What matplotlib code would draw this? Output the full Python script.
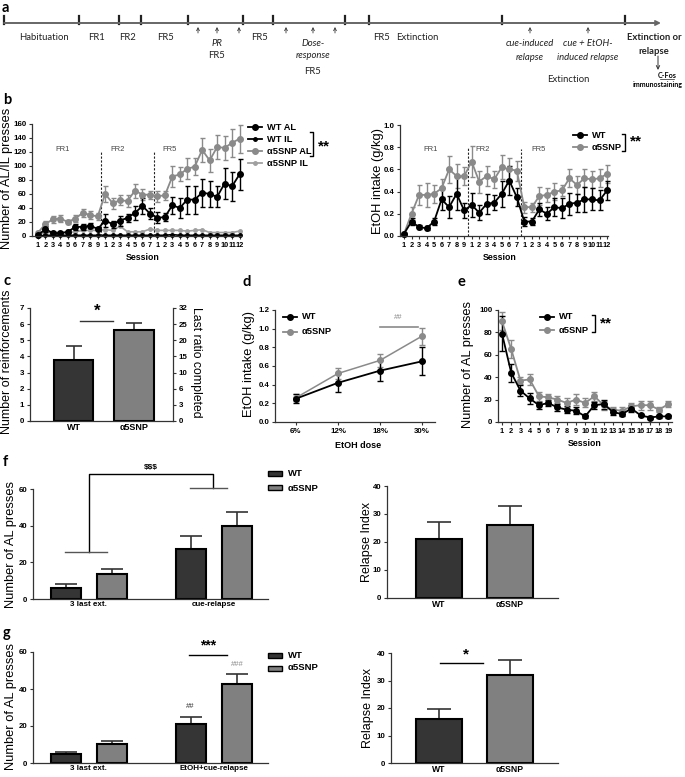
import matplotlib
matplotlib.use("Agg")
import matplotlib.pyplot as plt
from matplotlib.lines import Line2D
from matplotlib.patches import Rectangle

plt.rcParams['font.family'] = ['Liberation Sans', 'DejaVu Sans']

# ---------------- data ----------------
# panel b (left): AL / IL presses across FR1 (9), FR2 (7), FR5 (12) sessions
b_sessions = ['1', '2', '3', '4', '5', '6', '7', '8', '9',
              '1', '2', '3', '4', '5', '6', '7',
              '1', '2', '3', '4', '5', '6', '7', '8', '9', '10', '11', '12']
wt_al = [1, 10, 4, 4, 6, 13, 13, 15, 10,
         22, 17, 22, 26, 33, 43, 32,
         26, 27, 44, 40, 52, 52, 62, 60, 56, 75, 71, 88]
wt_al_err = [1, 4, 2, 2, 2, 4, 4, 4, 2,
             9, 5, 7, 6, 10, 12, 8,
             8, 6, 12, 14, 20, 20, 20, 18, 15, 22, 21, 22]
snp_al = [5, 17, 24, 25, 20, 25, 33, 30, 28,
          60, 47, 51, 50, 65, 59, 59,
          57, 58, 85, 88, 96, 99, 123, 108, 127, 126, 133, 139]
snp_al_err = [2, 4, 5, 5, 3, 5, 6, 6, 5,
              12, 8, 7, 8, 10, 8, 6,
              8, 7, 15, 10, 15, 12, 17, 17, 17, 17, 20, 20]
wt_il = [0, 1, 1, 1, 1, 1, 1, 1, 1,
         1, 1, 1, 1, 1, 1, 1,
         1, 1, 2, 1, 1, 1, 1, 1, 1, 1, 1, 1]
snp_il = [3, 5, 5, 5, 5, 6, 8, 8, 8,
          9, 8, 14, 6, 6, 6, 10,
          8, 8, 8, 8, 7, 8, 9, 5, 5, 5, 5, 7]

# panel b (right): EtOH intake
wt_etoh = [0.02, 0.13, 0.08, 0.07, 0.13, 0.33, 0.26, 0.38, 0.23,
           0.28, 0.21, 0.29, 0.30, 0.38, 0.50, 0.35,
           0.13, 0.13, 0.24, 0.20, 0.26, 0.25, 0.29, 0.30, 0.33, 0.33, 0.32, 0.41]
wt_etoh_err = [0.01, 0.03, 0.02, 0.02, 0.03, 0.10, 0.10, 0.15, 0.07,
               0.11, 0.07, 0.09, 0.07, 0.12, 0.13, 0.08,
               0.04, 0.03, 0.06, 0.06, 0.08, 0.09, 0.10, 0.08, 0.11, 0.10, 0.09, 0.09]
snp_etoh = [0.02, 0.20, 0.37, 0.37, 0.38, 0.43, 0.60, 0.54, 0.54,
            0.67, 0.49, 0.54, 0.51, 0.62, 0.60, 0.59,
            0.26, 0.26, 0.36, 0.37, 0.40, 0.41, 0.52, 0.46, 0.52, 0.51, 0.52, 0.56]
snp_etoh_err = [0.01, 0.06, 0.09, 0.11, 0.08, 0.08, 0.12, 0.11, 0.08,
                0.14, 0.10, 0.09, 0.08, 0.11, 0.10, 0.09,
                0.05, 0.04, 0.08, 0.06, 0.08, 0.05, 0.08, 0.08, 0.08, 0.08, 0.08, 0.08]

# panel c: progressive ratio
c_groups = ['WT', 'α5SNP']
c_vals = [3.8, 5.62]
c_err = [0.82, 0.48]
c_left_ticks = [0, 1, 2, 3, 4, 5, 6, 7]
c_right_labels = ['0', '3', '6', '10', '15', '20', '25', '32']

# panel d: dose response
d_doses = ['6%', '12%', '18%', '30%']
d_wt = [0.25, 0.42, 0.55, 0.65]
d_wt_err = [0.05, 0.10, 0.11, 0.15]
d_snp = [0.26, 0.52, 0.66, 0.92]
d_snp_err = [0.04, 0.06, 0.07, 0.09]

# panel e: extinction
e_sessions = [1, 2, 3, 4, 5, 6, 7, 8, 9, 10, 11, 12, 13, 14, 15, 16, 17, 18, 19]
e_wt = [79, 44, 28, 21, 15, 17, 13, 11, 10, 5, 15, 16, 9, 7, 12, 6, 4, 5, 5]
e_wt_err = [16, 8, 5, 5, 3, 3, 3, 3, 3, 1, 3, 4, 3, 2, 3, 1, 1, 1, 1]
e_snp = [90, 65, 37, 38, 23, 22, 20, 17, 20, 17, 23, 15, 11, 10, 14, 15, 15, 11, 16]
e_snp_err = [8, 8, 3, 5, 4, 3, 3, 4, 5, 4, 4, 4, 2, 3, 3, 4, 4, 2, 3]

# panel f: cue-induced relapse
f_cats = ['3 last ext.', 'cue-relapse']
f_wt = [6.0, 27.5]
f_wt_err = [2.0, 7.0]
f_snp = [13.5, 40.0]
f_snp_err = [3.0, 7.5]
f_ri = [21.0, 26.0]
f_ri_err = [6.2, 7.0]

# panel g: EtOH + cue-induced relapse
g_cats = ['3 last ext.', 'EtOH+cue-relapse']
g_wt = [4.8, 21.0]
g_wt_err = [1.2, 4.0]
g_snp = [10.2, 42.5]
g_snp_err = [1.8, 5.5]
g_ri = [16.0, 32.0]
g_ri_err = [3.5, 5.5]

# ---------------- styling ----------------
W, H = 685, 777
fig = plt.figure(figsize=(W / 100, H / 100), dpi=100)
fig.patch.set_facecolor('white')

BLACK = '#000000'
GRAY = '#8a8a8a'
BAR_WT = '#353535'
BAR_SNP = '#808080'
SPINE = '#333333'
TICK_FS = 5.7


def axpx(x0, y0, x1, y1):
    return fig.add_axes([x0 / W, 1 - y1 / H, (x1 - x0) / W, (y1 - y0) / H])


def fx(x):
    return x / W


def fy(y):
    return 1 - y / H


def ftext(x, y, s, **kw):
    kw.setdefault('ha', 'center')
    kw.setdefault('va', 'center')
    fig.text(fx(x), fy(y), s, **kw)


def fline(xs, ys, **kw):
    fig.add_artist(Line2D([fx(v) for v in xs], [fy(v) for v in ys],
                          transform=fig.transFigure, **kw))


def style(ax, xtick_len=2.5):
    for s in ('top', 'right'):
        ax.spines[s].set_visible(False)
    for s in ('left', 'bottom'):
        ax.spines[s].set_linewidth(0.9)
        ax.spines[s].set_color(SPINE)
    ax.tick_params(axis='both', direction='out', length=2.5, width=0.8,
                   color=SPINE, labelsize=TICK_FS, pad=1.5)
    ax.tick_params(axis='x', length=xtick_len)
    ax.patch.set_alpha(0)


def bold_ticks(ax, fs=None):
    for t in ax.get_xticklabels() + ax.get_yticklabels():
        t.set_fontweight('bold')
        if fs:
            t.set_fontsize(fs)


def noclip(ax):
    for a in ax.lines + ax.collections:
        a.set_clip_on(False)


def leg_line(x, y, color, label, ms=4, marker='o'):
    fline([x - 7, x + 7], [y, y], color=color, lw=1.3)
    fline([x], [y], color=color, marker=marker, ms=ms, lw=0)
    ftext(x + 12, y, label, ha='left', fontsize=6.7, fontweight='bold')


def bracket(x, y0, y1, star_x, star_y, s='**'):
    fline([x - 3, x, x, x - 3], [y0, y0, y1, y1], color=BLACK, lw=1.0)
    ftext(star_x, star_y, s, ha='left', fontsize=11, fontweight='bold')


def leg_box(x, y, color, label):
    fig.add_artist(Rectangle((fx(x - 7), fy(y + 2.5)), 14 / W, 5 / H,
                             transform=fig.transFigure, facecolor=color,
                             edgecolor=BLACK, lw=1.0))
    ftext(x + 13, y, label, ha='left', fontsize=6.8, fontweight='bold')


# ---------------- panel a: timeline ----------------
axa = fig.add_axes([0, 1 - 92 / H, 1, 92 / H])
axa.set_xlim(0, W)
axa.set_ylim(92, 0)
axa.axis('off')
tl_y = 23
tl_ticks = [4, 79, 119, 141, 188, 243, 273, 345, 369, 502, 625]
tl_arrows = [198, 217, 239, 286, 313, 335, 530, 588]
axa.annotate('', xy=(661, tl_y), xytext=(4, tl_y),
             arrowprops=dict(arrowstyle='->', color='#666666', lw=1.4,
                             mutation_scale=7, shrinkA=0, shrinkB=0))
for t in tl_ticks:
    axa.plot([t, t], [16, tl_y + 1], color='#222222', lw=1.6)
for t in tl_arrows:
    axa.annotate('', xy=(t, 27), xytext=(t, 33),
                 arrowprops=dict(arrowstyle='->', color='#333333', lw=0.6,
                                 mutation_scale=5, shrinkA=0, shrinkB=0))
axa.annotate('', xy=(658, 70), xytext=(658, 56),
             arrowprops=dict(arrowstyle='->', color='#333333', lw=0.7,
                             mutation_scale=6, shrinkA=0, shrinkB=0))
AF = ['Lato', 'DejaVu Sans']
a_texts = [
    (44, 37, 'Habituation', 'normal', 'normal'),
    (97, 37, 'FR1', 'normal', 'normal'),
    (128, 37, 'FR2', 'normal', 'normal'),
    (166, 37, 'FR5', 'normal', 'normal'),
    (217, 43, 'PR', 'italic', 'normal'),
    (217, 56, 'FR5', 'normal', 'normal'),
    (260, 37, 'FR5', 'normal', 'normal'),
    (313, 43, 'Dose-', 'italic', 'normal'),
    (313, 56, 'response', 'italic', 'normal'),
    (313, 72, 'FR5', 'normal', 'normal'),
    (382, 37, 'FR5', 'normal', 'normal'),
    (417, 37, 'Extinction', 'normal', 'normal'),
    (530, 43, 'cue-induced', 'italic', 'normal'),
    (530, 57, 'relapse', 'italic', 'normal'),
    (588, 43, 'cue + EtOH-', 'italic', 'normal'),
    (588, 57, 'induced relapse', 'italic', 'normal'),
    (568, 80, 'Extinction', 'normal', 'normal'),
    (654, 38, 'Extinction or', 'normal', 'bold'),
    (654, 51, 'relapse', 'normal', 'bold'),
]
for x, y, s, st, wt in a_texts:
    axa.text(x, y, s, ha='center', va='center', fontsize=6.8, family=AF,
             style=st, fontweight=wt, color='#222222')
axa.text(667, 75, 'C-Fos', ha='center', va='center', fontsize=5.2, family=AF,
         fontweight='bold')
axa.plot([660, 674], [79, 79], color='#222222', lw=0.5)
axa.text(683, 85, 'immunostaining', ha='right', va='center', fontsize=5.0,
         family=AF, fontweight='bold')

# panel letters
for x, y, s in [(2, 8, 'a'), (3, 100, 'b'), (3, 281, 'c'), (243, 282, 'd'),
                (458, 282, 'e'), (3, 462, 'f'), (3, 633, 'g')]:
    ftext(x, y, s, ha='left', fontsize=10.5, fontweight='bold', family=AF)

# ---------------- panel b left ----------------
ax = axpx(32, 124, 241, 236)
style(ax)
xb = list(range(len(b_sessions)))
ax.plot(xb, snp_il, color='#a0a0a0', marker='o', ms=2.5, lw=1.2)
ax.plot(xb, wt_il, color=BLACK, marker='o', ms=2.5, lw=1.2)
ax.errorbar(xb, snp_al, yerr=snp_al_err, color=GRAY, marker='o', ms=4, lw=1.3,
            elinewidth=1.0, capsize=1.8, capthick=1.0)
ax.errorbar(xb, wt_al, yerr=wt_al_err, color=BLACK, marker='o', ms=4, lw=1.3,
            elinewidth=1.0, capsize=1.8, capthick=1.0)
ax.plot([8.5, 8.5], [0, 120], color='#222222', lw=0.8, ls=(0, (2, 1.5)))
ax.plot([15.5, 15.5], [0, 120], color='#222222', lw=0.8, ls=(0, (2, 1.5)))
ax.text(3.3, 124, 'FR1', ha='center', va='center', fontsize=5.5, color='#444444')
ax.text(10.7, 124, 'FR2', ha='center', va='center', fontsize=5.5, color='#444444')
ax.text(17.6, 124, 'FR5', ha='center', va='center', fontsize=5.5, color='#444444')
ax.set_xlim(-0.8, 27.2)
ax.set_ylim(0, 160)
ax.set_yticks([0, 20, 40, 60, 80, 100, 120, 140, 160])
ax.set_xticks(xb)
ax.set_xticklabels(b_sessions)
bold_ticks(ax)
for t in ax.get_xticklabels():
    t.set_fontsize(5.3)
noclip(ax)
ftext(7, 178, 'Number of AL/IL presses', rotation=90, fontsize=9.3)
ftext(143, 258, 'Session', fontsize=6.3, fontweight='bold')
leg_line(255, 127, BLACK, 'WT AL')
leg_line(255, 139, BLACK, 'WT IL', ms=2.5)
leg_line(255, 151, GRAY, 'α5SNP AL')
leg_line(255, 163, '#a0a0a0', 'α5SNP IL', ms=2.5)
bracket(313, 132, 156, 318, 146)

# ---------------- panel b right ----------------
ax = axpx(400, 125, 608, 236)
style(ax)
ax.errorbar(xb, snp_etoh, yerr=snp_etoh_err, color=GRAY, marker='o', ms=4,
            lw=1.3, elinewidth=1.0, capsize=1.8, capthick=1.0)
ax.errorbar(xb, wt_etoh, yerr=wt_etoh_err, color=BLACK, marker='o', ms=4,
            lw=1.3, elinewidth=1.0, capsize=1.8, capthick=1.0)
ax.plot([8.5, 8.5], [0, 0.8], color='#222222', lw=0.8, ls=(0, (2, 1.5)))
ax.plot([15.5, 15.5], [0, 0.78], color='#222222', lw=0.8, ls=(0, (2, 1.5)))
ax.text(3.5, 0.78, 'FR1', ha='center', va='center', fontsize=5.5, color='#444444')
ax.text(10.5, 0.78, 'FR2', ha='center', va='center', fontsize=5.5, color='#444444')
ax.text(17.9, 0.78, 'FR5', ha='center', va='center', fontsize=5.5, color='#444444')
ax.set_xlim(-0.53, 27.13)
ax.set_ylim(0, 1.0)
ax.set_yticks([0.0, 0.2, 0.4, 0.6, 0.8, 1.0])
ax.set_yticklabels(['0.0', '0.2', '0.4', '0.6', '0.8', '1.0'])
ax.set_xticks(xb)
ax.set_xticklabels(b_sessions)
bold_ticks(ax)
for t in ax.get_xticklabels():
    t.set_fontsize(5.3)
noclip(ax)
ftext(378, 181, 'EtOH intake (g/kg)', rotation=90, fontsize=9.3)
ftext(500, 258, 'Session', fontsize=6.3, fontweight='bold')
leg_line(580, 135, BLACK, 'WT')
leg_line(580, 147, GRAY, 'α5SNP')
bracket(625, 134, 151, 630, 141)

# ---------------- panel c ----------------
ax = axpx(30, 308, 173, 421)
style(ax, xtick_len=0)
xc = [0, 1]
ax.bar(xc, c_vals, width=0.645, color=[BAR_WT, BAR_SNP], edgecolor=BLACK,
       linewidth=1.5, zorder=2)
ax.errorbar(xc, c_vals, yerr=[[0, 0], c_err], fmt='none', ecolor='#333333',
            elinewidth=1.2, capsize=6, capthick=1.2, zorder=1)
ax.set_xlim(-0.72, 1.645)
ax.set_ylim(0, 7)
ax.set_yticks(c_left_ticks)
ax.set_xticks(xc)
ax.set_xticklabels(c_groups)
bold_ticks(ax)
for t in ax.get_xticklabels():
    t.set_fontsize(6.5)
ax.plot([0.107, 0.65], [6.19, 6.19], color='#333333', lw=1.0, clip_on=False)
ax.text(0.39, 6.35, '*', ha='center', va='bottom', fontsize=12, fontweight='bold')
ax2 = ax.twinx()
ax2.set_ylim(0, 7)
for s in ('top', 'left', 'bottom'):
    ax2.spines[s].set_visible(False)
ax2.spines['right'].set_color(SPINE)
ax2.spines['right'].set_linewidth(0.9)
ax2.tick_params(axis='y', direction='out', length=2.5, width=0.8, color=SPINE,
                labelsize=TICK_FS, pad=1.5)
ax2.set_yticks(c_left_ticks)
ax2.set_yticklabels(c_right_labels)
bold_ticks(ax2)
ftext(7, 362, 'Number of reinforcements', rotation=90, fontsize=9.0)
ftext(196, 362, 'Last ratio completed', rotation=270, fontsize=8.8)

# ---------------- panel d ----------------
ax = axpx(275, 310, 435, 422)
style(ax)
xd = [0, 1, 2, 3]
ax.errorbar(xd, d_snp, yerr=d_snp_err, color=GRAY, marker='o', ms=4, lw=1.1,
            elinewidth=1.0, capsize=2.2, capthick=1.0)
ax.errorbar(xd, d_wt, yerr=d_wt_err, color=BLACK, marker='o', ms=4, lw=1.3,
            elinewidth=1.0, capsize=2.2, capthick=1.0)
ax.set_xlim(-0.5, 3.31)
ax.set_ylim(0, 1.2)
ax.set_yticks([0.0, 0.2, 0.4, 0.6, 0.8, 1.0, 1.2])
ax.set_yticklabels(['0.0', '0.2', '0.4', '0.6', '0.8', '1.0', '1.2'])
ax.set_xticks(xd)
ax.set_xticklabels(d_doses)
bold_ticks(ax)
noclip(ax)
ax.plot([2.0, 2.9], [1.02, 1.02], color=GRAY, lw=1.2, clip_on=False)
ax.text(2.43, 1.12, '##', ha='center', va='center', fontsize=5.5, color=GRAY)
ftext(249, 364, 'EtOH intake (g/kg)', rotation=90, fontsize=9.3)
ftext(358, 445, 'EtOH dose', fontsize=6.5, fontweight='bold')
leg_line(290, 317, BLACK, 'WT')
leg_line(290, 332, GRAY, 'α5SNP')

# ---------------- panel e ----------------
ax = axpx(498, 310, 672, 422)
style(ax)
ax.errorbar(e_sessions, e_snp, yerr=e_snp_err, color=GRAY, marker='o', ms=4,
            lw=1.3, elinewidth=1.0, capsize=2.0, capthick=1.0)
ax.errorbar(e_sessions, e_wt, yerr=e_wt_err, color=BLACK, marker='o', ms=4,
            lw=1.3, elinewidth=1.0, capsize=2.0, capthick=1.0)
ax.set_xlim(0.57, 19.4)
ax.set_ylim(0, 100)
ax.set_yticks([0, 20, 40, 60, 80, 100])
ax.set_xticks(e_sessions)
bold_ticks(ax)
for t in ax.get_xticklabels():
    t.set_fontsize(5.3)
noclip(ax)
ftext(468, 364, 'Number of AL presses', rotation=90, fontsize=9.3)
ftext(585, 443, 'Session', fontsize=6.3, fontweight='bold')
leg_line(547, 317, BLACK, 'WT')
leg_line(547, 330, GRAY, 'α5SNP')
bracket(595, 315, 332, 600, 323)


# ---------------- bar panels f / g ----------------
def group_bars(ax, cats, wt, wt_err, snp, snp_err):
    gx = [0, 1]
    off = 0.186
    wx = [g - off for g in gx]
    sx = [g + off for g in gx]
    ax.bar(wx, wt, width=0.24, color=BAR_WT, edgecolor=BLACK, linewidth=1.5, zorder=2)
    ax.bar(sx, snp, width=0.24, color=BAR_SNP, edgecolor=BLACK, linewidth=1.5, zorder=2)
    ax.errorbar(wx, wt, yerr=[[0, 0], wt_err], fmt='none', ecolor='#333333',
                elinewidth=1.2, capsize=8, capthick=1.2, zorder=1)
    ax.errorbar(sx, snp, yerr=[[0, 0], snp_err], fmt='none', ecolor='#333333',
                elinewidth=1.2, capsize=8, capthick=1.2, zorder=1)
    ax.set_xlim(-0.446, 1.434)
    ax.set_ylim(0, 60)
    ax.set_yticks([0, 20, 40, 60])
    ax.set_xticks(gx)
    ax.set_xticklabels(cats)
    bold_ticks(ax)
    for t in ax.get_xticklabels():
        t.set_fontsize(5.8)


def ri_bars(ax, vals, errs):
    xr = [0, 1]
    ax.bar(xr, vals, width=0.643, color=[BAR_WT, BAR_SNP], edgecolor=BLACK,
           linewidth=1.5, zorder=2)
    ax.errorbar(xr, vals, yerr=[[0, 0], errs], fmt='none', ecolor='#333333',
                elinewidth=1.2, capsize=8.3, capthick=1.2, zorder=1)
    ax.set_ylim(0, 40)
    ax.set_yticks([0, 10, 20, 30, 40])
    ax.set_xticks(xr)
    ax.set_xticklabels(['WT', 'α5SNP'])
    bold_ticks(ax)
    for t in ax.get_xticklabels():
        t.set_fontsize(6.2)


# f left
ax = axpx(33, 489, 268, 599)
style(ax, xtick_len=0)
group_bars(ax, f_cats, f_wt, f_wt_err, f_snp, f_snp_err)
ax.plot([0.0, 0.0, 0.99, 0.99], [25.6, 68.2, 68.2, 60.6], color=BLACK, lw=1.0,
        clip_on=False)
ax.plot([-0.19, 0.146], [25.6, 25.6], color='#555555', lw=1.0, clip_on=False)
ax.plot([0.81, 1.107], [60.6, 60.6], color='#555555', lw=1.0, clip_on=False)
ax.text(0.5, 71.5, '$$$', ha='center', va='center', fontsize=6, fontweight='bold')
ftext(11, 544, 'Number of AL presses', rotation=90, fontsize=9.3)
leg_box(275, 473, BAR_WT, 'WT')
leg_box(275, 488, BAR_SNP, 'α5SNP')

# f right
ax = axpx(387, 486, 558, 598)
style(ax, xtick_len=0)
ri_bars(ax, f_ri, f_ri_err)
ax.set_xlim(-0.72, 1.67)
ftext(367, 542, 'Relapse Index', rotation=90, fontsize=9.0)

# g left
ax = axpx(33, 652, 268, 763)
style(ax, xtick_len=0)
group_bars(ax, g_cats, g_wt, g_wt_err, g_snp, g_snp_err)
ax.plot([0.80, 1.106], [58.4, 58.4], color=BLACK, lw=1.0, clip_on=False)
ax.text(0.953, 59.5, '***', ha='center', va='bottom', fontsize=10, fontweight='bold')
ax.text(0.81, 30.3, '##', ha='center', va='center', fontsize=5.5, color='#333333')
ax.text(1.186, 53.5, '###', ha='center', va='center', fontsize=5.5, color=GRAY)
ftext(11, 707, 'Number of AL presses', rotation=90, fontsize=9.3)
leg_box(275, 655, BAR_WT, 'WT')
leg_box(275, 668, BAR_SNP, 'α5SNP')

# g right
ax = axpx(391, 653, 558, 763)
style(ax, xtick_len=0)
ri_bars(ax, g_ri, g_ri_err)
ax.set_xlim(-0.664, 1.67)
ax.plot([0.02, 0.62], [36.4, 36.4], color=BLACK, lw=1.0, clip_on=False)
ax.text(0.38, 36.8, '*', ha='center', va='bottom', fontsize=11, fontweight='bold')
ftext(368, 708, 'Relapse Index', rotation=90, fontsize=9.0)

fig.savefig('out.png', dpi=100, facecolor='white')
